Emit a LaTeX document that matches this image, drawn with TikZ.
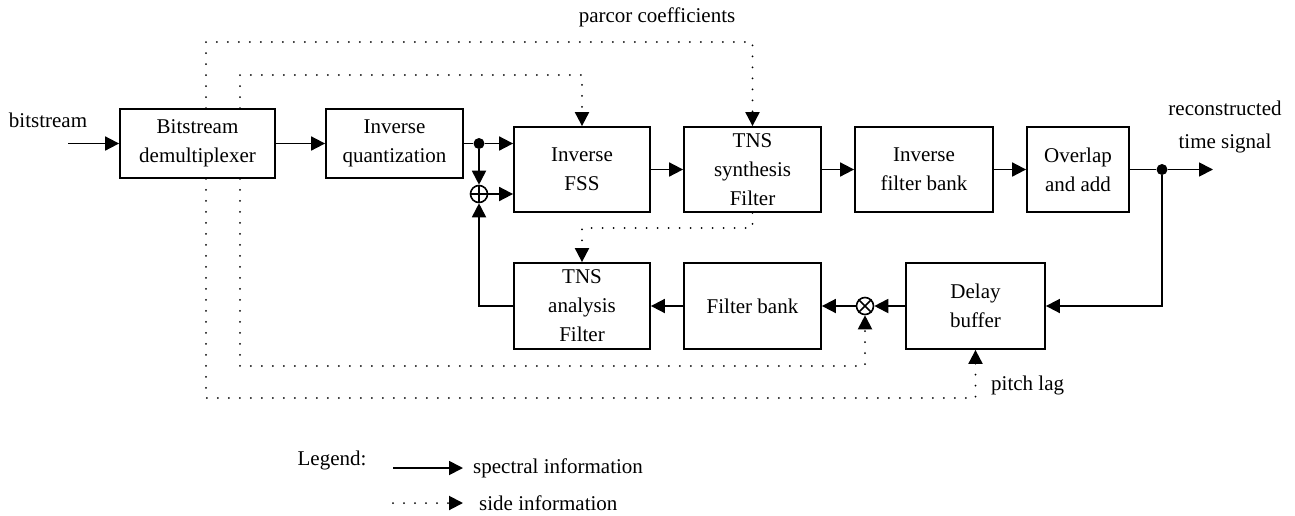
\documentclass[tikz,border=0pt]{standalone}
\usepackage{fontspec}
\setmainfont{Liberation Serif}
\usetikzlibrary{arrows.meta,calc}
\begin{document}
\begin{tikzpicture}[x=1pt,y=-1pt,
  every node/.style={font=\fontsize{21}{29}\selectfont},
  blk/.style={draw,line width=1.8pt,align=center,inner sep=0pt},
  spec/.style={line width=1.8pt,-{Triangle[length=14pt,width=14pt]}},
  plain/.style={line width=1.8pt},
  side/.style={line width=2pt,dash pattern=on 0pt off 11pt,line cap=round,-{Triangle[length=14pt,width=14pt]}},
  jdot/.style={circle,fill,inner sep=0pt,minimum size=11pt},
  sumc/.style={circle,draw,line width=1.6pt,inner sep=0pt,minimum size=17pt},
  lbl/.style={inner sep=0pt}
]
\useasboundingbox (0,0) rectangle (1295,515);

% blocks
\node[blk,minimum width=155pt,minimum height=69pt] (demux) at (197.5,143.5) {Bitstream\\demultiplexer};
\node[blk,minimum width=137pt,minimum height=69pt] (invq) at (394.5,143.5) {Inverse\\quantization};
\node[blk,minimum width=136pt,minimum height=85pt] (fss) at (582,169.5) {Inverse\\FSS};
\node[blk,minimum width=137pt,minimum height=85pt] (tnss) at (752.5,169.5) {TNS\\synthesis\\Filter};
\node[blk,minimum width=138pt,minimum height=85pt] (ifb) at (924,169.5) {Inverse\\filter bank};
\node[blk,minimum width=102pt,minimum height=85pt] (ola) at (1078,169.5) {Overlap\\and add};
\node[blk,minimum width=136pt,minimum height=86pt] (tnsa) at (582,306) {TNS\\analysis\\Filter};
\node[blk,minimum width=137pt,minimum height=86pt] (fb) at (752.5,306) {Filter bank};
\node[blk,minimum width=139pt,minimum height=86pt] (delay) at (975.5,306) {Delay\\buffer};

% junctions
\node[jdot] (d1) at (479,143.5) {};
\node[jdot] (d2) at (1162,169.5) {};
\node[sumc] (plus) at (479,194) {};
\draw[plain,line width=1.6pt] (plus.north) -- (plus.south) (plus.west) -- (plus.east);
\node[sumc] (mul) at (865,306) {};
\draw[plain,line width=1.6pt] (mul.north west) -- (mul.south east) (mul.north east) -- (mul.south west);

% labels
\node (lbin) at (48,120) {bitstream};
\node[align=center,font=\fontsize{21}{33}\selectfont] (lbout) at (1225,127) {reconstructed\\time signal};
\node (lbparcor) at (657,17) {parcor coefficients};
\node[lbl,anchor=west] (lbpitch) at (991,385) {pitch lag};

% free ends
\coordinate (in) at (68,143.5);
\coordinate (out) at (1213,169.5);

% spectral paths
\draw[spec] (in) -- (demux);
\draw[spec] (demux) -- (invq);
\draw[plain] (invq.east) -- (d1);
\draw[spec] (d1) -- (d1 -| fss.west);
\draw[spec] (d1) -- (plus);
\draw[spec] (plus) -- (plus -| fss.west);
\draw[spec] (tnsa.west) -| (plus);
\draw[spec] (fss) -- (tnss);
\draw[spec] (tnss) -- (ifb);
\draw[spec] (ifb) -- (ola);
\draw[plain] (ola.east) -- (d2);
\draw[spec] (d2) -- (out);
\draw[spec] (d2) |- (delay.east);
\draw[spec] (delay) -- (mul);
\draw[spec] (mul) -- (fb);
\draw[spec] (fb) -- (tnsa);

% side information paths
\coordinate (t1) at (206,42);
\coordinate (t2) at (240,75);
\coordinate (b1) at (206,398);
\coordinate (b2) at (240,366);
\coordinate (m1) at (752.5,228);
\draw[side] (demux.north -| t1) -- (t1) -| (tnss.north);
\draw[side] (demux.north -| t2) -- (t2) -| (fss.north);
\draw[side] (demux.south -| b1) -- (b1) -| (delay.south);
\draw[side] (demux.south -| b2) -- (b2) -| (mul.south);
\draw[side] (tnss.south) -- (m1) -| (tnsa.north);

% legend
\node (lg) at (332,460) {Legend:};
\coordinate (ls1) at (393,468);
\coordinate (le1) at (463,468);
\coordinate (ls2) at (393,503);
\coordinate (le2) at (463,503);
\draw[spec] (ls1) -- (le1);
\draw[side] (ls2) -- (le2);
\node[lbl,anchor=west] (lspec) at (473,468) {spectral information};
\node[lbl,anchor=west] (lside) at (479,503) {side information};
\end{tikzpicture}
\end{document}
